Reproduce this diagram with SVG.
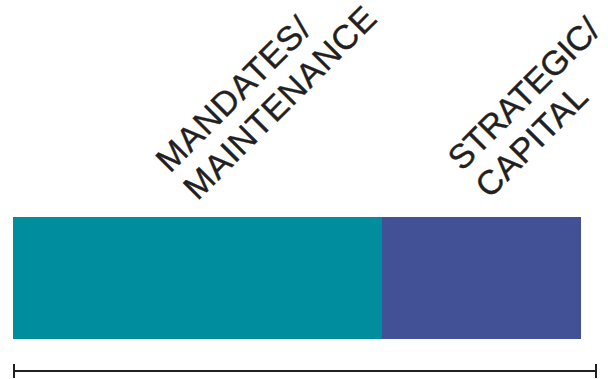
<svg xmlns="http://www.w3.org/2000/svg" width="608" height="379" viewBox="0 0 608 379">
<style>
.lbl{font-family:"Liberation Sans",Arial,sans-serif;font-size:34px;fill:#231f20;stroke:#231f20;stroke-width:0.4px;}
</style>
<rect width="608" height="379" fill="#ffffff"/>
<g id="mandates">
<rect x="13" y="217" width="369" height="122" fill="#008e9e"/>
<text class="lbl" transform="translate(170,174) rotate(-45)"><tspan x="0" y="0" textLength="202" lengthAdjust="spacing">MANDATES/</tspan><tspan x="0" y="39" textLength="256" lengthAdjust="spacing">MAINTENANCE</tspan></text>
</g>
<g id="strategic">
<rect x="382" y="217" width="199" height="122" fill="#425095"/>
<text class="lbl" transform="translate(462,172) rotate(-45)"><tspan x="0" y="0" textLength="198" lengthAdjust="spacing">STRATEGIC/</tspan><tspan x="0" y="39" textLength="142" lengthAdjust="spacing">CAPITAL</tspan></text>
</g>
<g id="connectors" stroke="#231f20" stroke-width="2" fill="none">
<line x1="14" y1="371" x2="596" y2="371"/>
<line x1="14" y1="364" x2="14" y2="378"/>
<line x1="596" y1="364" x2="596" y2="378"/>
</g>
</svg>
